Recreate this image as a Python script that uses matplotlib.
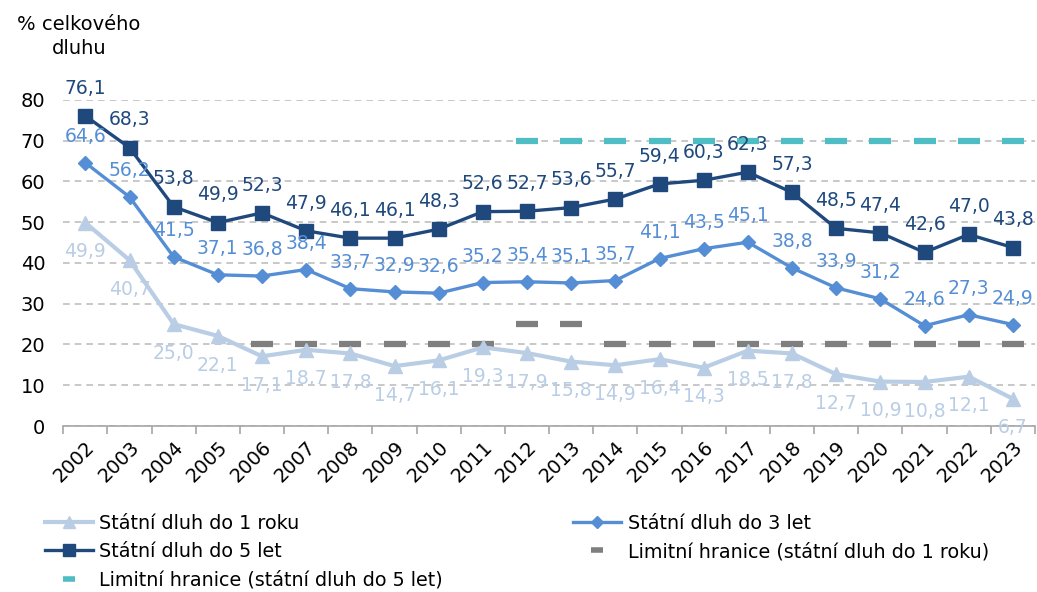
import numpy as np
import matplotlib
matplotlib.use("Agg")
import matplotlib.pyplot as plt
from matplotlib.lines import Line2D

# data
years = [str(y) for y in range(2002, 2024)]
do_1_roku = [49.9, 40.7, 25.0, 22.1, 17.1, 18.7, 17.8, 14.7, 16.1, 19.3, 17.9,
             15.8, 14.9, 16.4, 14.3, 18.5, 17.8, 12.7, 10.9, 10.8, 12.1, 6.7]
do_3_let = [64.6, 56.2, 41.5, 37.1, 36.8, 38.4, 33.7, 32.9, 32.6, 35.2, 35.4,
            35.1, 35.7, 41.1, 43.5, 45.1, 38.8, 33.9, 31.2, 24.6, 27.3, 24.9]
do_5_let = [76.1, 68.3, 53.8, 49.9, 52.3, 47.9, 46.1, 46.1, 48.3, 52.6, 52.7,
            53.6, 55.7, 59.4, 60.3, 62.3, 57.3, 48.5, 47.4, 42.6, 47.0, 43.8]
nan = np.nan
limit_1_rok = [nan, nan, nan, nan, 20, 20, 20, 20, 20, 20, 25,
               25, 20, 20, 20, 20, 20, 20, 20, 20, 20, 20]
limit_5_let = [nan] * 10 + [70] * 12

c1 = "#B9CDE5"
c3 = "#558ED5"
c5 = "#1F497D"
c_gray = "#7F7F7F"
c_teal = "#4FBEC4"

plt.rcParams["font.family"] = "DejaVu Sans"

fig = plt.figure(figsize=(10.37, 5.92), dpi=100)
ax = fig.add_axes([0.061, 0.2804, 0.937, 0.5507])

x = np.arange(len(years))

ax.plot(x, do_1_roku, color=c1, lw=3, marker="^", ms=10, zorder=3)
ax.plot(x, do_3_let, color=c3, lw=2.4, marker="D", ms=7.5, zorder=4)
ax.plot(x, do_5_let, color=c5, lw=2.4, marker="s", ms=10, zorder=5)
ax.plot(x, limit_1_rok, ls="none", marker="_", ms=16, mew=4.5,
        color=c_gray, zorder=2)
ax.plot(x, limit_5_let, ls="none", marker="_", ms=16, mew=4.5,
        color=c_teal, zorder=2)


def fmt(v):
    return f"{v:.1f}".replace(".", ",")


for xi, v in zip(x, do_1_roku):
    ax.annotate(fmt(v), (xi, v), xytext=(0, -21), textcoords="offset points",
                ha="center", va="center", color=c1, fontsize=13.5, zorder=6)
for xi, v in zip(x, do_3_let):
    ax.annotate(fmt(v), (xi, v), xytext=(0, 19), textcoords="offset points",
                ha="center", va="center", color=c3, fontsize=13.5, zorder=6)
for xi, v in zip(x, do_5_let):
    ax.annotate(fmt(v), (xi, v), xytext=(0, 20), textcoords="offset points",
                ha="center", va="center", color=c5, fontsize=13.5, zorder=6)

ax.set_xlim(-0.5, len(years) - 0.5)
ax.set_ylim(0, 80)
ax.set_yticks(range(0, 81, 10))
ax.set_xticks(x)
ax.set_xticklabels(years, rotation=45, ha="right", rotation_mode="anchor",
                   fontsize=14)
ax.set_xticks(np.arange(-0.5, len(years)), minor=True)
ax.tick_params(axis="x", which="major", length=0, pad=8)
ax.tick_params(axis="x", which="minor", length=6, color="#A6A6A6", width=1.2)
ax.tick_params(axis="y", length=0, labelsize=14, pad=13)

ax.grid(axis="y", color="#BFBFBF", ls=(0, (4, 3)), lw=1.2)
ax.set_axisbelow(True)
for s in ["left", "right", "top"]:
    ax.spines[s].set_visible(False)
ax.spines["bottom"].set_color("#A6A6A6")
ax.spines["bottom"].set_linewidth(1.2)

fig.text(0.076, 0.975, "% celkového\ndluhu", ha="center", va="top",
         fontsize=14, linespacing=1.35)

# legend proxies with smaller markers, ordered to fill row by row
h1 = Line2D([], [], color=c1, lw=3, marker="^", ms=8)
h3 = Line2D([], [], color=c3, lw=2.4, marker="D", ms=6)
h5 = Line2D([], [], color=c5, lw=2.4, marker="s", ms=8)
hl1 = Line2D([], [], ls="none", color=c_gray, marker="_", ms=8, mew=4)
hl5 = Line2D([], [], ls="none", color=c_teal, marker="_", ms=8, mew=4)
handles = [h1, h5, hl5, h3, hl1]
labels = ["Státní dluh do 1 roku", "Státní dluh do 5 let",
          "Limitní hranice (státní dluh do 5 let)",
          "Státní dluh do 3 let",
          "Limitní hranice (státní dluh do 1 roku)"]
fig.legend(handles=handles, labels=labels,
           ncol=2, loc="upper left", bbox_to_anchor=(0.043, 0.132),
           frameon=False, fontsize=13.8, handlelength=2.5,
           handletextpad=0.35, labelspacing=0.48, columnspacing=6.8,
           borderaxespad=0, borderpad=0)

fig.savefig("out.png", dpi=100)
